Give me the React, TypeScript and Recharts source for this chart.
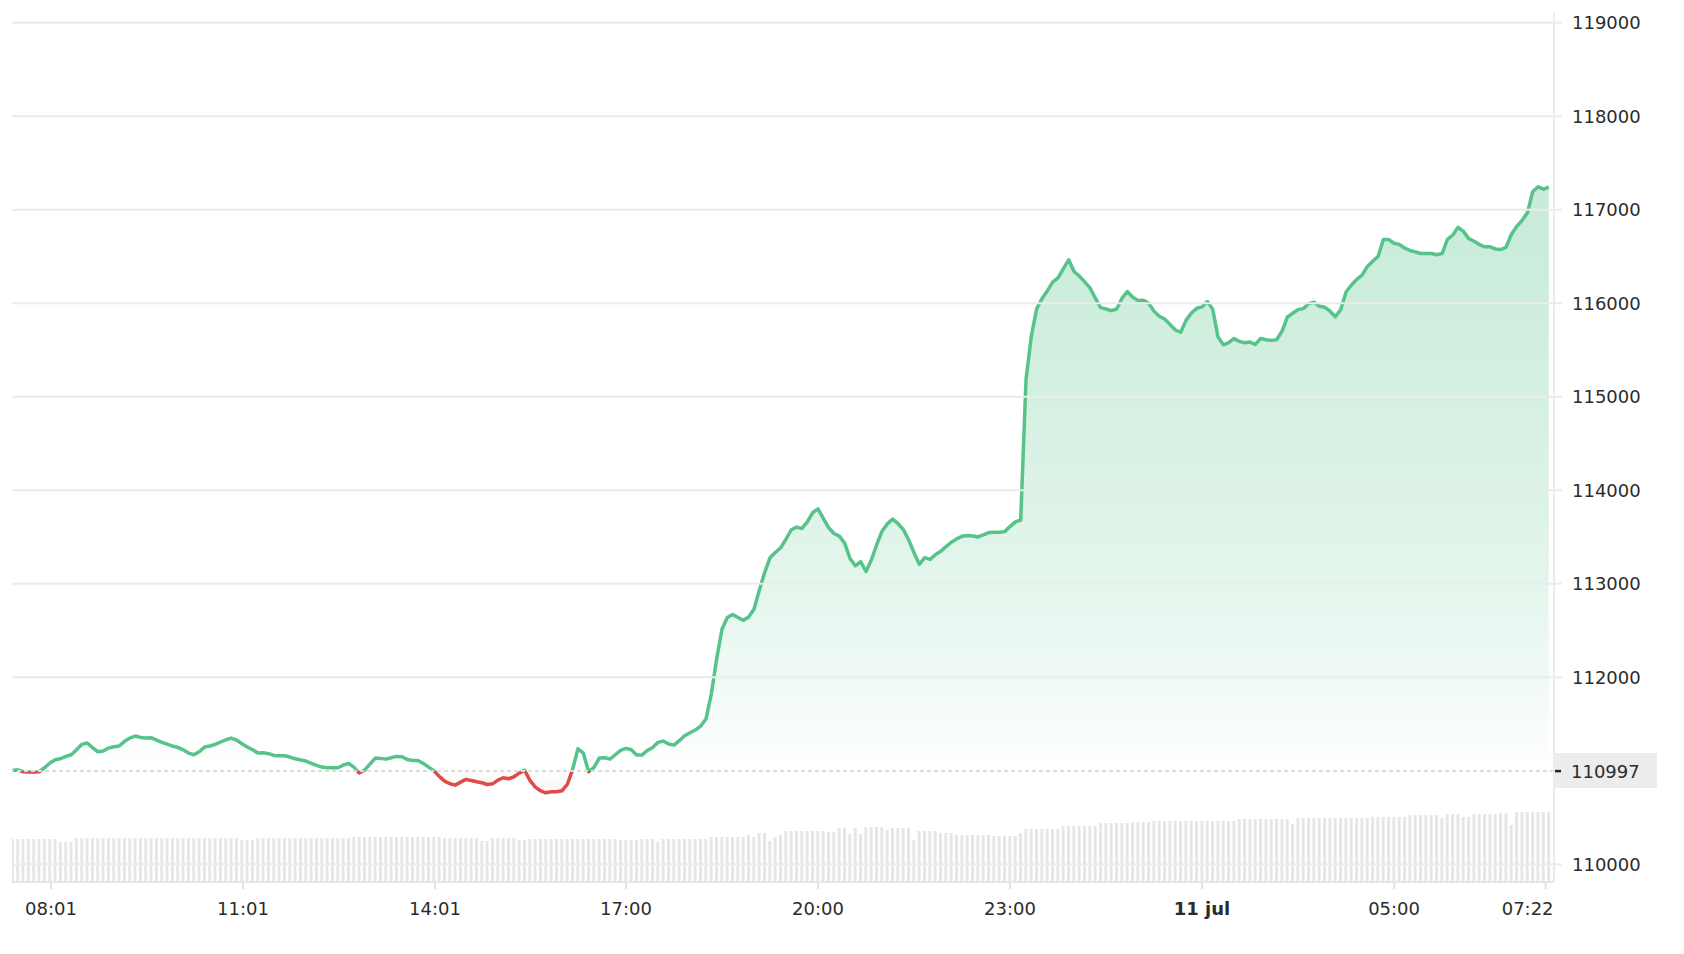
import React from 'react';
import { ComposedChart, Area, Bar, XAxis, YAxis, ReferenceLine } from 'recharts';

// Reference (opening) price of the 24h window
const BASE = 110997;
// first sample: 07:25 on 10 jul (minutes since 00:00 10 jul), one sample every 5 minutes
const START_MIN = 445;
const STEP_MIN = 5;

const prices = [
  111004, 111011, 110990, 110986, 110986, 110990, 111033, 111083, 111118, 111129,
  111154, 111172, 111225, 111283, 111297, 111247, 111204, 111211, 111243, 111258,
  111265, 111315, 111350, 111372, 111357, 111350, 111354, 111329, 111304, 111286,
  111265, 111250, 111225, 111190, 111172, 111204, 111254, 111265, 111283, 111308,
  111332, 111350, 111329, 111290, 111254, 111225, 111190, 111193, 111183, 111165,
  111161, 111161, 111147, 111129, 111115, 111104, 111079, 111058, 111040, 111033,
  111033, 111033, 111061, 111079, 111040, 110976, 111008, 111072, 111136, 111133,
  111125, 111140, 111154, 111150, 111122, 111111, 111111, 111079, 111040, 111001,
  110940, 110890, 110861, 110847, 110879, 110908, 110897, 110883, 110872, 110854,
  110861, 110901, 110926, 110915, 110936, 110976, 111004, 110897, 110826, 110786,
  110765, 110776, 110776, 110786, 110854, 111015, 111236, 111190, 110990, 111036,
  111136, 111140, 111125, 111172, 111218, 111240, 111225, 111168, 111168, 111218,
  111250, 111304, 111318, 111286, 111275, 111322, 111375, 111407, 111436, 111479,
  111554, 111821, 112196, 112514, 112639, 112671, 112639, 112610, 112646, 112728,
  112931, 113121, 113278, 113335, 113385, 113478, 113578, 113606, 113592, 113663,
  113760, 113802, 113699, 113599, 113538, 113510, 113435, 113270, 113192, 113238,
  113131, 113256, 113415, 113562, 113641, 113691, 113644, 113580, 113469, 113333,
  113208, 113279, 113261, 113311, 113347, 113397, 113444, 113480, 113508, 113516,
  113512, 113501, 113523, 113548, 113551, 113551, 113558, 113612, 113662, 113680,
  115184, 115649, 115943, 116050, 116133, 116226, 116272, 116370, 116465, 116340,
  116290, 116229, 116165, 116054, 115953, 115939, 115921, 115939, 116054, 116125,
  116064, 116029, 116032, 116000, 115914, 115860, 115832, 115774, 115714, 115690,
  115817, 115896, 115946, 115961, 116018, 115936, 115638, 115556, 115578, 115624,
  115592, 115578, 115585, 115560, 115624, 115610, 115603, 115610, 115703, 115853,
  115893, 115932, 115943, 115996, 116011, 115968, 115957, 115915, 115855, 115933,
  116121, 116195, 116255, 116301, 116394, 116450, 116500, 116681, 116681, 116642,
  116628, 116589, 116564, 116550, 116532, 116532, 116532, 116518, 116532, 116684,
  116730, 116812, 116769, 116691, 116663, 116628, 116603, 116603, 116581, 116574,
  116599, 116738, 116823, 116887, 116968, 117195, 117245, 117220, 117241,
];

const volumes = [
  43, 43, 43, 43, 43, 43, 43, 43, 43, 40,
  40, 40, 44, 44, 44, 44, 44, 44, 44, 44,
  44, 44, 44, 44, 44, 44, 44, 44, 44, 44,
  44, 44, 44, 44, 44, 44, 44, 44, 44, 44,
  44, 44, 44, 42, 42, 42, 44, 44, 44, 44,
  44, 44, 44, 44, 44, 44, 44, 44, 44, 44,
  44, 44, 44, 44, 45, 45, 45, 45, 45, 45,
  45, 45, 45, 45, 45, 45, 45, 45, 45, 45,
  45, 44, 44, 44, 44, 44, 44, 44, 41, 41,
  44, 44, 44, 44, 44, 42, 42, 43, 43, 43,
  43, 43, 43, 43, 43, 43, 43, 43, 43, 43,
  43, 43, 43, 43, 42, 42, 42, 42, 43, 43,
  43, 40, 43, 43, 43, 43, 43, 43, 43, 43,
  43, 45, 45, 45, 45, 45, 45, 45, 47, 45,
  49, 49, 41, 45, 47, 51, 51, 51, 51, 51,
  51, 51, 51, 50, 50, 54, 54, 48, 54, 48,
  55, 55, 55, 55, 52, 54, 54, 54, 54, 42,
  51, 51, 51, 51, 49, 49, 49, 47, 47, 47,
  47, 47, 47, 47, 46, 46, 46, 46, 46, 49,
  53, 53, 53, 53, 53, 53, 53, 56, 56, 56,
  56, 56, 56, 56, 59, 59, 59, 59, 59, 59,
  60, 60, 60, 60, 61, 61, 61, 61, 61, 61,
  61, 61, 61, 61, 61, 61, 61, 61, 61, 61,
  63, 63, 63, 63, 63, 63, 63, 63, 63, 63,
  58, 64, 64, 64, 64, 64, 64, 64, 64, 64,
  64, 64, 64, 64, 64, 65, 65, 65, 65, 65,
  65, 65, 67, 67, 67, 67, 67, 67, 64, 68,
  68, 68, 65, 65, 68, 68, 68, 68, 68, 69,
  69, 57, 70, 70, 70, 70, 70, 70, 70,
];

const timeTicks = [481, 661, 841, 1020, 1200, 1380, 1560, 1740, 1882];
const timeTickLabels = ['08:01', '11:01', '14:01', '17:00', '20:00', '23:00', '11 jul', '05:00', '07:22'];
const priceTicks = [110000, 112000, 113000, 114000, 115000, 116000, 117000, 118000, 119000];

const rows = prices.map((p, i) => ({ t: START_MIN + STEP_MIN * i, price: p, vol: volumes[i] }));

// layout / style
const W = 1684;
const H = 954;
const MARGIN = { top: 13, right: 0, bottom: 12, left: 12 };
const X_AXIS_H = 60;
const Y_AXIS_W = 130;
const X_DOMAIN: [number, number] = [444.5, 1889.9];
const Y_DOMAIN: [number, number] = [109811, 119104];
const VOL_DOMAIN: [number, number] = [0, 869];

const GREEN = '#55c38a';
const RED = '#df4b4b';
const GRID = '#ebebeb';
const TEXT = '#2b2b2b';
const FONT = '"DejaVu Sans", Verdana, sans-serif';

const plotTop = MARGIN.top;
const plotBottom = H - MARGIN.bottom - X_AXIS_H;
const yOf = (v: number) =>
  plotTop + ((Y_DOMAIN[1] - v) / (Y_DOMAIN[1] - Y_DOMAIN[0])) * (plotBottom - plotTop);
const baseY = yOf(BASE);

function XTick(props: any) {
  const { x, y, payload } = props;
  const i = timeTicks.indexOf(payload.value);
  const label = timeTickLabels[i];
  const last = i === timeTicks.length - 1;
  return (
    <text
      x={last ? x + 8 : x}
      y={y}
      dy={24}
      textAnchor={last ? 'end' : 'middle'}
      fontSize={18}
      fontFamily={FONT}
      fontWeight={label === '11 jul' ? 700 : 400}
      fill={TEXT}
    >
      {label}
    </text>
  );
}

function BaseLabel(props: any) {
  const vb = props.viewBox || {};
  const yy = vb.y;
  const xr = vb.x + vb.width;
  return (
    <g>
      <rect x={xr} y={yy - 18} width={103} height={35} fill="#ececec" />
      <line x1={xr} x2={xr + 7} y1={yy} y2={yy} stroke="#222" strokeWidth={2.5} />
      <text x={xr + 17} y={yy} dy="0.36em" fontSize={18} fontFamily={FONT} fill={TEXT}>
        {BASE}
      </text>
    </g>
  );
}

export default function App() {
  const off = (y: number) => y / H;
  return (
    <div style={{ position: 'fixed', left: 0, top: 0, width: W, height: H, background: '#fff', fontFamily: FONT }}>
      <ComposedChart width={W} height={H} data={rows} margin={MARGIN}>
        <defs>
          <linearGradient id="lineGrad" gradientUnits="userSpaceOnUse" x1="0" y1="0" x2="0" y2={H}>
            <stop offset={off(baseY)} stopColor={GREEN} />
            <stop offset={off(baseY)} stopColor={RED} />
          </linearGradient>
          <linearGradient id="fillGrad" gradientUnits="userSpaceOnUse" x1="0" y1="0" x2="0" y2={H}>
            <stop offset={off(13)} stopColor={GREEN} stopOpacity={0.4} />
            <stop offset={off(190)} stopColor={GREEN} stopOpacity={0.33} />
            <stop offset={off(304)} stopColor={GREEN} stopOpacity={0.29} />
            <stop offset={off(583)} stopColor={GREEN} stopOpacity={0.16} />
            <stop offset={off(677)} stopColor={GREEN} stopOpacity={0.09} />
            <stop offset={off(baseY)} stopColor={GREEN} stopOpacity={0} />
            <stop offset={off(baseY)} stopColor={RED} stopOpacity={0} />
            <stop offset={off(baseY + 30)} stopColor={RED} stopOpacity={0.1} />
          </linearGradient>
        </defs>
        <XAxis
          dataKey="t"
          type="number"
          domain={X_DOMAIN}
          allowDataOverflow
          ticks={timeTicks}
          interval={0}
          height={X_AXIS_H}
          tick={<XTick />}
          tickSize={7}
          axisLine={{ stroke: '#e6e6e6', strokeWidth: 2 }}
          tickLine={{ stroke: '#e2e2e2', strokeWidth: 2 }}
        />
        <YAxis
          orientation="right"
          domain={Y_DOMAIN}
          allowDataOverflow
          ticks={priceTicks}
          interval={0}
          width={Y_AXIS_W}
          tickSize={8}
          tickMargin={10}
          axisLine={{ stroke: GRID, strokeWidth: 2 }}
          tickLine={{ stroke: GRID, strokeWidth: 2 }}
          tick={{ fontSize: 18, fill: TEXT, fontFamily: FONT }}
        />
        <YAxis yAxisId="vol" hide domain={VOL_DOMAIN} allowDataOverflow />
        <Bar yAxisId="vol" dataKey="vol" fill="#e6e6e6" barSize={3} isAnimationActive={false} />
        {priceTicks.map((v) => (
          <ReferenceLine key={v} y={v} stroke={GRID} strokeWidth={2} />
        ))}
        <ReferenceLine y={BASE} stroke="#dcdcdc" strokeWidth={2} strokeDasharray="4 3" label={<BaseLabel />} />
        <Area
          dataKey="price"
          baseValue={BASE}
          type="linear"
          stroke="url(#lineGrad)"
          strokeWidth={3.5}
          strokeLinejoin="round"
          fill="url(#fillGrad)"
          fillOpacity={1}
          dot={false}
          activeDot={false}
          isAnimationActive={false}
        />
      </ComposedChart>
    </div>
  );
}
